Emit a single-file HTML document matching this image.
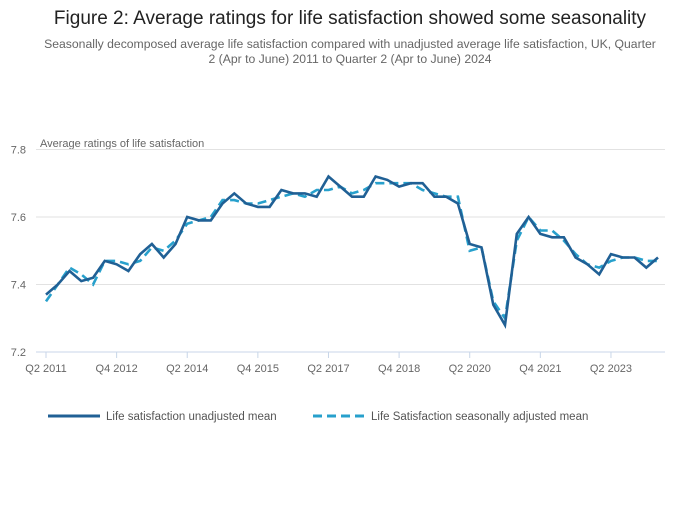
<!DOCTYPE html>
<html><head><meta charset="utf-8">
<style>
body{margin:0;background:#fff;width:700px;height:502px;overflow:hidden;font-family:"Liberation Sans",sans-serif;}
</style></head>
<body>
<svg width="700" height="502" viewBox="0 0 700 502">
<text x="350" y="24" text-anchor="middle" font-size="19" fill="#222">Figure 2: Average ratings for life satisfaction showed some seasonality</text>
<text x="350" y="48" text-anchor="middle" font-size="12.2" fill="#666">Seasonally decomposed average life satisfaction compared with unadjusted average life satisfaction, UK, Quarter</text>
<text x="350" y="63" text-anchor="middle" font-size="12.2" fill="#666">2 (Apr to June) 2011 to Quarter 2 (Apr to June) 2024</text>
<text x="40" y="147" font-size="11" fill="#666">Average ratings of life satisfaction</text>
<g id="grid"></g><g id="axes"></g><g id="series"></g>
<g>
<g>
<line x1="48" y1="416" x2="100" y2="416" stroke="#206095" stroke-width="3"/>
<text x="106" y="420" font-size="11.5" fill="#555">Life satisfaction unadjusted mean</text></g>
<g>
<line x1="313" y1="416" x2="365" y2="416" stroke="#27a0cc" stroke-width="3" stroke-dasharray="9,5"/>
<text x="371" y="420" font-size="11.5" fill="#555">Life Satisfaction seasonally adjusted mean</text></g>
</g>
</svg>
<script>
const unadjusted=[7.37,7.40,7.44,7.41,7.42,7.47,7.46,7.44,7.49,7.52,7.48,7.52,7.60,7.59,7.59,7.64,7.67,7.64,7.63,7.63,7.68,7.67,7.67,7.66,7.72,7.69,7.66,7.66,7.72,7.71,7.69,7.70,7.70,7.66,7.66,7.64,7.52,7.51,7.34,7.28,7.55,7.60,7.55,7.54,7.54,7.48,7.46,7.43,7.49,7.48,7.48,7.45,7.48];
const adjusted=[7.35,7.40,7.45,7.43,7.40,7.47,7.47,7.46,7.47,7.51,7.50,7.53,7.58,7.59,7.60,7.65,7.65,7.64,7.64,7.65,7.66,7.67,7.66,7.68,7.68,7.69,7.67,7.68,7.70,7.70,7.70,7.70,7.68,7.67,7.66,7.66,7.50,7.51,7.35,7.30,7.53,7.60,7.56,7.56,7.53,7.49,7.46,7.45,7.47,7.48,7.48,7.47,7.47];
const yTicks=[7.2,7.4,7.6,7.8];
const xTickLabels=["Q2 2011","Q4 2012","Q2 2014","Q4 2015","Q2 2017","Q4 2018","Q2 2020","Q4 2021","Q2 2023"];
const xTickIndex=[0,6,12,18,24,30,36,42,48];
const NS="http://www.w3.org/2000/svg";
const x0=46,dx=11.77,yBase=352,yTop=149.5,vMin=7.2,vMax=7.8;
const xs=i=>x0+i*dx;
const ys=v=>yBase-(v-vMin)/(vMax-vMin)*(yBase-yTop);
function mk(t,a,p){const e=document.createElementNS(NS,t);for(const k in a)e.setAttribute(k,a[k]);p.appendChild(e);return e;}
const grid=document.getElementById('grid'),axes=document.getElementById('axes'),ser=document.getElementById('series');
yTicks.forEach(v=>{
  if(v>vMin){const l=mk('line',{x1:36,x2:665,y1:ys(v),y2:ys(v),stroke:'#e2e2e2','stroke-width':1},grid);
  
  }
  const t=mk('text',{x:26,y:ys(v)+4,'font-size':11,fill:'#666','text-anchor':'end'},axes);
  t.textContent=v.toFixed(1);
  
  
});
const ax=mk('line',{x1:36,x2:665,y1:yBase,y2:yBase,stroke:'#c8d6e8','stroke-width':1},axes);


xTickIndex.forEach((idx,k)=>{
  const x=xs(idx);
  const tk=mk('line',{x1:x,x2:x,y1:yBase,y2:yBase+6,stroke:'#c8d6e8'},axes);
  
  
  const t=mk('text',{x:x,y:yBase+20,'font-size':11,fill:'#666','text-anchor':'middle'},axes);
  t.textContent=xTickLabels[k];
  
  
});
function path(d){return d.map((v,i)=>(i?'L':'M')+xs(i).toFixed(1)+','+ys(v).toFixed(1)).join('');}
const pa=mk('path',{d:path(adjusted),fill:'none',stroke:'#27a0cc','stroke-width':2.6,'stroke-dasharray':'9,5'},ser);


const pu=mk('path',{d:path(unadjusted),fill:'none',stroke:'#206095','stroke-width':2.6,'stroke-linejoin':'miter'},ser);


</script>
</body></html>
